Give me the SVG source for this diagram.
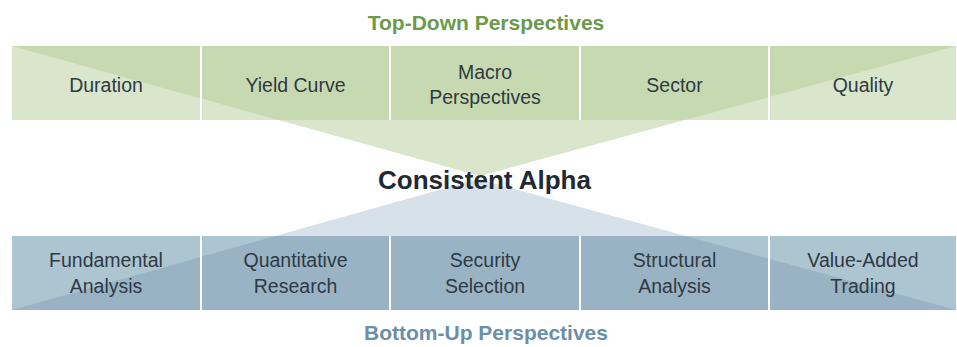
<svg xmlns="http://www.w3.org/2000/svg" xmlns:xlink="http://www.w3.org/1999/xlink" width="957" height="347" viewBox="0 0 957 347">
<style>
.t{font-family:"Liberation Sans",Arial,sans-serif;text-anchor:middle}
.lbl{font-size:19.5px;fill:#2e3a44}
.title{font-size:21px;font-weight:bold}
.green{fill:#6b9a48}
.blue{fill:#6a8fa8}
.alpha{font-size:26px;font-weight:bold;fill:#1f2a35}
.gl{fill:#d9e6cb}
.gd{fill:#c7d9b0}
.bl{fill:#adc4d1}
.bd{fill:#99b3c5}
.bt{fill:#d6e1e9}
</style>
<defs>
<polygon id="triTop" points="12,46 956,46 480,176"/>
<polygon id="triBot" points="12,310 956,310 478,179"/>
<clipPath id="ct1"><rect x="12" y="46" width="188" height="74"/></clipPath>
<clipPath id="ct2"><rect x="202" y="46" width="187" height="74"/></clipPath>
<clipPath id="ct3"><rect x="391" y="46" width="188" height="74"/></clipPath>
<clipPath id="ct4"><rect x="581" y="46" width="187" height="74"/></clipPath>
<clipPath id="ct5"><rect x="770" y="46" width="186" height="74"/></clipPath>
<clipPath id="cb1"><rect x="12" y="236" width="188" height="74"/></clipPath>
<clipPath id="cb2"><rect x="202" y="236" width="187" height="74"/></clipPath>
<clipPath id="cb3"><rect x="391" y="236" width="188" height="74"/></clipPath>
<clipPath id="cb4"><rect x="581" y="236" width="187" height="74"/></clipPath>
<clipPath id="cb5"><rect x="770" y="236" width="186" height="74"/></clipPath>
</defs>
<rect width="957" height="347" fill="#ffffff"/>
<g id="funnels">
<polygon class="gl" points="278.4,120 685,120 480,176"/>
<polygon class="bt" points="275.2,236 686,236 478,179"/>
</g>
<text class="t title green" x="486" y="30">Top-Down Perspectives</text>
<g id="duration">
<rect class="gl" x="12" y="46" width="188" height="74"/>
<use xlink:href="#triTop" class="gd" clip-path="url(#ct1)"/>
<text class="t lbl" x="106" y="92">Duration</text>
</g>
<g id="yield-curve">
<rect class="gl" x="202" y="46" width="187" height="74"/>
<use xlink:href="#triTop" class="gd" clip-path="url(#ct2)"/>
<text class="t lbl" x="295.5" y="92">Yield Curve</text>
</g>
<g id="macro">
<rect class="gl" x="391" y="46" width="188" height="74"/>
<use xlink:href="#triTop" class="gd" clip-path="url(#ct3)"/>
<text class="t lbl" x="485" y="79">Macro</text>
<text class="t lbl" x="485" y="104">Perspectives</text>
</g>
<g id="sector">
<rect class="gl" x="581" y="46" width="187" height="74"/>
<use xlink:href="#triTop" class="gd" clip-path="url(#ct4)"/>
<text class="t lbl" x="674.5" y="92">Sector</text>
</g>
<g id="quality">
<rect class="gl" x="770" y="46" width="186" height="74"/>
<use xlink:href="#triTop" class="gd" clip-path="url(#ct5)"/>
<text class="t lbl" x="863" y="92">Quality</text>
</g>
<g id="consistent-alpha">
<text class="t alpha" x="484.5" y="189">Consistent Alpha</text>
</g>
<g id="fundamental">
<rect class="bl" x="12" y="236" width="188" height="74"/>
<use xlink:href="#triBot" class="bd" clip-path="url(#cb1)"/>
<text class="t lbl" x="106" y="267">Fundamental</text>
<text class="t lbl" x="106" y="293">Analysis</text>
</g>
<g id="quantitative">
<rect class="bl" x="202" y="236" width="187" height="74"/>
<use xlink:href="#triBot" class="bd" clip-path="url(#cb2)"/>
<text class="t lbl" x="295.5" y="267">Quantitative</text>
<text class="t lbl" x="295.5" y="293">Research</text>
</g>
<g id="security">
<rect class="bl" x="391" y="236" width="188" height="74"/>
<use xlink:href="#triBot" class="bd" clip-path="url(#cb3)"/>
<text class="t lbl" x="485" y="267">Security</text>
<text class="t lbl" x="485" y="293">Selection</text>
</g>
<g id="structural">
<rect class="bl" x="581" y="236" width="187" height="74"/>
<use xlink:href="#triBot" class="bd" clip-path="url(#cb4)"/>
<text class="t lbl" x="674.5" y="267">Structural</text>
<text class="t lbl" x="674.5" y="293">Analysis</text>
</g>
<g id="value-added">
<rect class="bl" x="770" y="236" width="186" height="74"/>
<use xlink:href="#triBot" class="bd" clip-path="url(#cb5)"/>
<text class="t lbl" x="863" y="267">Value-Added</text>
<text class="t lbl" x="863" y="293">Trading</text>
</g>
<text class="t title blue" x="486" y="340">Bottom-Up Perspectives</text>
</svg>
